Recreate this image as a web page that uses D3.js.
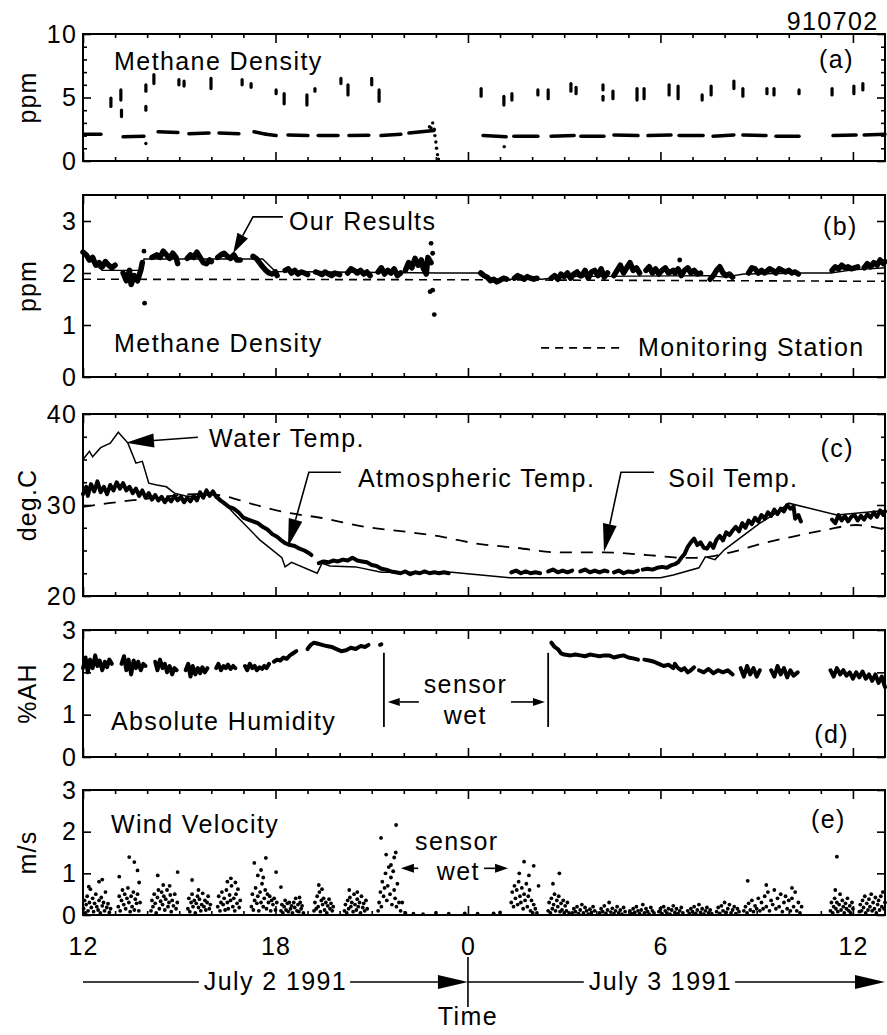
<!DOCTYPE html>
<html>
<head>
<meta charset="utf-8">
<script src="https://cdn.jsdelivr.net/npm/d3@7"></script>
<style>
  body { margin: 0; background: #fff; }
</style>
</head>
<body>
<div id="chart"></div>
<script>
// ---------------- data (hours from July 2 00:00; 24 = midnight) ----------------
const xTickValues = [12, 18, 24, 30, 36];
const xTickLabels = ["12", "18", "0", "6", "12"];

// (a) methane density: low readings come as short dashes [t0, t1, v0, v1]
const methaneLow = [
  [12.03, 12.56, 2.1, 2.1], [13.25, 13.9, 1.9, 1.95], [14.34, 14.96, 2.3, 2.25],
  [15.3, 15.93, 2.15, 2.2], [16.24, 16.86, 2.2, 2.15], [17.33, 17.7, 2.3, 2.1],
  [17.7, 18.02, 2.1, 2.0], [18.39, 19.01, 2.05, 2.0], [19.33, 19.95, 2.0, 2.0],
  [20.29, 20.91, 2.0, 2.02], [21.29, 21.91, 2.0, 2.1], [22.16, 22.94, 2.2, 2.4],
  [24.47, 25.19, 2.0, 1.9], [25.43, 26.18, 1.95, 1.95], [26.59, 27.31, 1.95, 2.0],
  [27.52, 28.24, 1.95, 1.95], [28.55, 29.3, 2.05, 2.0], [29.61, 30.33, 2.0, 2.05],
  [30.58, 31.33, 2.0, 2.0], [31.64, 32.29, 1.95, 2.05], [32.57, 33.29, 2.05, 2.0],
  [33.6, 34.32, 1.95, 1.95], [35.38, 36.1, 2.0, 2.05], [36.35, 37.0, 2.05, 2.1]
];
// high readings: short vertical clusters [t, vTop, vBottom]
const methaneHigh = [
  [12.87, 4.95, 4.3], [13.18, 5.6, 4.8], [13.2, 4.0, 3.5], [13.96, 6.0, 5.5], [13.96, 4.3, 4.0],
  [14.21, 6.8, 6.1], [14.99, 6.4, 6.0], [15.15, 6.3, 5.9], [15.99, 6.5, 5.7], [16.96, 6.4, 6.0],
  [17.24, 6.1, 5.8], [18.02, 5.6, 5.3], [18.27, 5.3, 4.5], [18.98, 5.2, 4.4], [19.23, 5.7, 5.5],
  [20.04, 6.5, 6.1], [20.26, 6.0, 5.2], [21.0, 6.5, 6.0], [21.23, 5.6, 4.7],
  [24.41, 5.7, 5.1], [25.12, 5.1, 4.4], [25.37, 5.3, 4.8], [26.18, 5.6, 5.2], [26.5, 5.6, 4.9],
  [27.21, 6.1, 5.5], [27.37, 5.8, 5.3], [28.21, 6.0, 5.6], [28.21, 5.1, 4.8], [28.52, 5.5, 4.9],
  [29.27, 5.7, 4.8], [29.49, 5.7, 4.9], [30.27, 6.0, 5.2], [30.55, 5.9, 4.9], [31.3, 5.2, 4.8],
  [31.58, 5.9, 5.2], [32.29, 6.3, 5.7], [32.57, 5.7, 5.1], [33.32, 5.7, 5.3], [33.54, 5.7, 5.2],
  [34.32, 5.6, 5.3], [35.35, 5.7, 5.2], [36.03, 5.9, 5.3], [36.31, 6.1, 5.6]
];
const methaneStray = [
  [13.96, 1.38], [22.85, 2.6], [22.9, 3.0], [22.95, 2.5], [22.97, 2.0], [23.0, 1.5],
  [23.02, 1.0], [23.05, 0.5], [23.08, 0.15], [22.8, 2.7], [25.13, 1.13]
];

// (b) our results (trace segments), strays, mean line, monitoring station
const ourResults = [
  [[12.0, 2.4], [12.1, 2.35], [12.2, 2.25], [12.3, 2.3], [12.4, 2.15], [12.5, 2.2], [12.6, 2.12], [12.7, 2.22], [12.8, 2.15], [12.9, 2.1], [13.0, 2.15]],
  [[13.25, 2.0], [13.35, 1.85], [13.45, 2.05], [13.5, 1.78], [13.6, 1.95], [13.7, 1.85], [13.8, 2.05], [13.85, 2.2]],
  [[14.15, 2.3], [14.3, 2.35], [14.4, 2.3], [14.5, 2.42], [14.6, 2.35], [14.7, 2.28], [14.8, 2.38], [14.9, 2.3], [14.95, 2.18]],
  [[15.25, 2.28], [15.35, 2.35], [15.45, 2.3], [15.55, 2.4], [15.65, 2.3], [15.75, 2.2], [15.85, 2.18], [15.95, 2.25], [16.0, 2.22]],
  [[16.2, 2.3], [16.3, 2.35], [16.4, 2.38], [16.5, 2.32], [16.6, 2.28], [16.7, 2.35], [16.8, 2.25], [16.9, 2.25]],
  [[17.3, 2.32], [17.4, 2.28], [17.5, 2.2], [17.6, 2.12], [17.7, 2.05], [17.8, 2.0], [17.9, 1.98], [18.0, 2.02], [18.05, 1.95]],
  [[18.3, 2.05], [18.4, 2.08], [18.5, 2.0], [18.6, 2.05], [18.7, 1.98], [18.8, 2.02], [18.9, 2.0], [19.0, 1.97]],
  [[19.25, 2.02], [19.35, 2.0], [19.45, 1.97], [19.55, 2.02], [19.65, 1.98], [19.75, 1.95], [19.85, 2.0], [20.0, 1.97]],
  [[20.25, 2.0], [20.35, 2.08], [20.45, 2.05], [20.55, 2.0], [20.65, 2.05], [20.75, 1.98], [20.85, 2.02], [20.95, 1.95]],
  [[21.2, 2.02], [21.3, 2.1], [21.4, 1.98], [21.5, 2.05], [21.6, 2.0], [21.7, 2.08], [21.8, 1.95], [21.9, 2.0]],
  [[22.05, 2.05], [22.15, 2.2], [22.25, 2.1], [22.35, 2.28], [22.45, 2.15], [22.55, 2.25], [22.6, 2.1], [22.7, 1.98], [22.75, 2.3], [22.85, 2.2]],
  [[24.4, 2.0], [24.5, 1.95], [24.6, 1.92], [24.7, 1.85], [24.8, 1.88], [24.9, 1.83], [25.0, 1.86], [25.1, 1.9], [25.2, 1.88]],
  [[25.45, 1.9], [25.55, 1.95], [25.65, 1.92], [25.75, 1.88], [25.85, 1.93], [25.95, 1.9], [26.05, 1.88], [26.15, 1.9]],
  [[26.6, 1.9], [26.7, 1.95], [26.8, 1.88], [26.9, 1.98], [27.0, 1.93], [27.1, 2.0], [27.2, 1.9], [27.3, 1.98], [27.4, 2.02], [27.5, 1.95]],
  [[27.55, 1.95], [27.65, 2.05], [27.75, 1.9], [27.85, 2.02], [27.95, 2.05], [28.05, 1.95], [28.15, 2.08], [28.25, 1.92], [28.35, 2.0]],
  [[28.55, 1.95], [28.65, 2.05], [28.75, 2.15], [28.85, 2.0], [28.95, 2.1], [29.05, 2.2], [29.15, 2.05], [29.25, 2.1], [29.35, 2.0]],
  [[29.55, 2.05], [29.65, 2.12], [29.75, 2.0], [29.85, 2.08], [29.95, 1.98], [30.05, 2.05], [30.15, 2.1], [30.25, 2.0], [30.4, 2.05]],
  [[30.45, 2.0], [30.55, 2.08], [30.65, 1.95], [30.75, 2.05], [30.85, 2.1], [30.95, 2.0], [31.05, 2.05], [31.15, 1.98], [31.25, 2.0]],
  [[31.55, 1.88], [31.65, 1.95], [31.75, 2.05], [31.85, 2.12], [31.95, 2.0], [32.05, 1.95], [32.15, 1.98], [32.25, 1.92]],
  [[32.75, 2.0], [32.85, 2.1], [32.95, 2.08], [33.05, 2.0], [33.15, 2.05], [33.25, 2.0], [33.4, 2.08], [33.5, 2.05], [33.6, 2.0], [33.7, 2.08], [33.8, 2.05], [33.9, 2.02], [34.0, 2.05], [34.1, 2.0], [34.2, 2.02], [34.3, 1.98]],
  [[35.35, 2.05], [35.45, 2.12], [35.55, 2.08], [35.65, 2.15], [35.75, 2.1], [35.85, 2.12], [35.95, 2.08], [36.05, 2.1], [36.15, 2.12]],
  [[36.35, 2.1], [36.45, 2.18], [36.55, 2.12], [36.65, 2.2], [36.75, 2.15], [36.85, 2.25], [36.95, 2.18], [37.0, 2.22]]
];
const ourResultsStray = [
  [13.9, 2.42], [13.92, 1.42], [22.85, 2.57], [22.9, 2.38], [22.82, 1.64], [22.9, 1.67], [22.95, 1.2], [30.6, 2.25]
];
const ourResultsMean = [
  [12.0, 2.38], [12.3, 2.2], [12.6, 2.05], [13.85, 2.05], [13.9, 2.27], [17.6, 2.27], [18.0, 2.03],
  [23.1, 2.0], [24.3, 2.0], [24.8, 1.88], [26.3, 1.88], [27.0, 1.93], [31.5, 1.95], [32.0, 1.92],
  [32.6, 1.98], [34.5, 2.0], [35.3, 2.0], [36.0, 2.06], [37.0, 2.1]
];
const monitoringStation = [[12.0, 1.88], [24.0, 1.87], [37.0, 1.84]];

// (c) temperatures
const waterTemp = [
  [12.0, 35.0], [12.2, 35.9], [12.3, 35.3], [12.55, 36.3], [12.85, 36.8], [13.1, 38.0], [13.4, 36.8],
  [13.65, 34.6], [13.85, 34.8], [14.05, 32.4], [14.3, 32.2], [14.6, 32.0], [14.85, 31.3], [15.2, 31.0],
  [15.6, 30.9], [16.0, 31.2], [16.2, 31.0], [16.7, 29.1], [17.5, 26.2], [18.2, 24.2], [18.3, 23.2],
  [18.5, 23.7], [19.3, 22.5], [19.45, 23.6], [19.7, 23.3], [20.5, 23.2], [21.3, 22.6], [23.5, 22.6],
  [25.3, 22.0], [30.0, 22.0], [30.4, 22.3], [31.2, 23.1], [31.4, 24.3], [31.7, 24.0], [32.0, 25.1],
  [33.1, 28.0], [33.6, 29.1], [34.0, 30.2], [35.5, 28.9], [37.0, 29.4]
];
const atmTemp = [
  [[12.0, 31.2], [12.1, 32.0], [12.15, 31.0], [12.25, 32.3], [12.35, 31.5], [12.45, 32.6], [12.55, 31.4], [12.65, 32.0],
   [12.75, 31.2], [12.85, 32.2], [12.95, 31.6], [13.05, 32.5], [13.15, 31.8], [13.25, 32.4], [13.35, 31.6], [13.45, 32.0],
   [13.55, 31.3], [13.65, 31.8], [13.75, 31.0], [13.85, 31.6], [13.95, 30.8], [14.05, 31.3], [14.15, 30.6], [14.25, 31.1],
   [14.35, 30.5], [14.45, 30.9], [14.55, 30.3], [14.65, 30.8], [14.75, 30.4], [14.85, 31.0], [14.95, 30.5], [15.05, 30.9],
   [15.15, 30.3], [15.25, 30.8], [15.35, 30.4], [15.45, 31.0], [15.55, 30.5], [15.65, 31.4], [15.75, 30.8], [15.85, 31.6],
   [15.95, 31.0], [16.05, 31.5], [16.15, 30.9], [16.25, 30.6], [16.4, 30.2], [16.55, 29.8], [16.7, 29.6], [16.85, 29.2],
   [17.0, 28.6], [17.15, 28.4], [17.3, 28.2], [17.45, 28.0], [17.6, 27.6], [17.75, 27.3], [17.9, 26.8], [18.05, 26.5],
   [18.15, 26.2], [18.3, 25.8], [18.45, 25.6], [18.6, 25.5], [18.75, 25.2], [18.9, 25.0], [19.05, 24.7], [19.12, 24.5]],
  [[19.35, 23.6], [19.5, 23.8], [19.65, 23.7], [19.8, 23.9], [19.95, 23.8], [20.1, 24.0], [20.25, 23.9], [20.4, 24.2],
   [20.55, 23.9], [20.7, 23.8], [20.85, 23.7], [21.0, 23.4], [21.15, 23.3], [21.3, 23.0], [21.45, 22.9], [21.6, 22.7],
   [21.75, 22.6], [21.9, 22.5], [22.05, 22.7], [22.2, 22.4], [22.35, 22.6], [22.5, 22.5], [22.65, 22.7], [22.8, 22.5],
   [22.95, 22.6], [23.1, 22.5], [23.25, 22.6], [23.4, 22.5]],
  [[25.35, 22.6], [25.5, 22.8], [25.65, 22.5], [25.8, 22.7], [25.95, 22.5], [26.1, 22.6], [26.25, 22.5]],
  [[26.5, 22.7], [26.65, 22.9], [26.8, 22.6], [26.95, 22.8], [27.1, 22.6], [27.25, 22.8]],
  [[27.5, 22.7], [27.65, 22.9], [27.8, 22.6], [27.95, 22.8], [28.1, 22.6], [28.25, 22.8], [28.35, 22.7]],
  [[28.55, 22.6], [28.7, 22.8], [28.85, 22.5], [29.0, 22.7], [29.15, 22.6], [29.3, 22.8]],
  [[29.45, 22.9], [29.6, 23.0], [29.75, 22.9], [29.9, 23.1], [30.05, 23.2], [30.2, 23.1], [30.35, 23.4], [30.45, 23.5],
   [30.55, 23.7], [30.65, 24.2], [30.75, 24.6], [30.85, 25.4], [30.95, 25.9], [31.05, 26.3], [31.15, 25.6], [31.25, 25.9],
   [31.35, 25.3], [31.45, 25.2], [31.55, 25.8], [31.65, 25.3], [31.75, 26.2], [31.85, 26.6], [31.95, 26.1], [32.05, 27.0],
   [32.15, 26.7], [32.25, 27.2], [32.35, 27.6], [32.45, 27.1], [32.55, 28.0], [32.65, 27.5], [32.75, 28.3], [32.85, 27.9],
   [32.95, 28.6], [33.05, 28.2], [33.15, 28.9], [33.25, 28.5], [33.35, 29.2], [33.45, 28.8], [33.55, 29.5], [33.65, 29.0],
   [33.75, 29.6], [33.85, 29.3], [33.95, 30.0], [34.05, 29.6], [34.15, 29.8], [34.2, 28.5], [34.3, 28.9], [34.38, 28.2]],
  [[35.35, 28.4], [35.45, 28.0], [35.55, 28.9], [35.65, 28.3], [35.75, 28.8], [35.85, 28.2], [35.95, 28.7], [36.05, 28.9],
   [36.15, 28.3], [36.25, 28.8], [36.35, 28.4], [36.45, 29.0], [36.55, 28.6], [36.65, 29.2], [36.75, 28.7], [36.85, 29.4],
   [36.95, 28.9], [37.0, 29.3]]
];
const soilTemp = [
  [12.0, 29.8], [12.8, 30.2], [13.5, 30.5], [14.5, 30.9], [15.5, 31.2], [16.2, 31.1], [16.9, 30.5], [17.5, 29.9],
  [18.3, 29.2], [19.4, 28.6], [20.8, 27.6], [22.2, 27.0], [23.2, 26.5], [24.2, 25.8], [25.5, 25.3], [26.8, 24.8],
  [28.2, 24.8], [29.6, 24.5], [30.7, 24.2], [31.1, 24.2], [32.2, 24.8], [33.2, 25.8], [34.1, 26.5], [35.2, 27.3],
  [36.1, 27.8], [37.0, 27.3]
];

// (d) absolute humidity
const humidity = [
  [[12.0, 2.1], [12.08, 2.35], [12.15, 2.0], [12.22, 2.3], [12.3, 2.1], [12.38, 2.4], [12.45, 2.15], [12.52, 2.28], [12.6, 2.05], [12.68, 2.25], [12.75, 2.12], [12.82, 2.3], [12.9, 2.2]],
  [[13.2, 2.2], [13.28, 2.38], [13.35, 2.05], [13.42, 2.3], [13.5, 1.95], [13.58, 2.28], [13.65, 2.1], [13.72, 2.25], [13.8, 2.05], [13.88, 2.2], [13.95, 2.15]],
  [[14.25, 2.25], [14.32, 2.05], [14.4, 2.3], [14.48, 2.1], [14.55, 2.2], [14.62, 2.0], [14.7, 2.15], [14.78, 1.95], [14.85, 2.1], [14.92, 2.05]],
  [[15.2, 2.05], [15.28, 2.2], [15.35, 1.9], [15.42, 2.15], [15.5, 1.95], [15.58, 2.1], [15.65, 1.98], [15.72, 2.12], [15.8, 2.0], [15.88, 2.1]],
  [[16.15, 2.1], [16.22, 2.2], [16.3, 2.05], [16.38, 2.15], [16.45, 2.1], [16.52, 2.18], [16.6, 2.08], [16.68, 2.15], [16.75, 2.1]],
  [[17.05, 2.15], [17.12, 2.05], [17.2, 2.2], [17.28, 2.1], [17.35, 2.15], [17.42, 2.05], [17.5, 2.12], [17.58, 2.08], [17.65, 2.15], [17.72, 2.1], [17.8, 2.2]],
  [[17.95, 2.25], [18.05, 2.3], [18.15, 2.28], [18.25, 2.35], [18.35, 2.32], [18.45, 2.4], [18.55, 2.45], [18.65, 2.5]],
  [[19.0, 2.55], [19.1, 2.65], [19.2, 2.7], [19.3, 2.68], [19.45, 2.65], [19.6, 2.62], [19.75, 2.6], [19.9, 2.55], [20.05, 2.5], [20.2, 2.52], [20.35, 2.58], [20.5, 2.55], [20.65, 2.62], [20.8, 2.6], [20.9, 2.65]],
  [[21.26, 2.65], [21.3, 2.66]],
  [[26.6, 2.7], [26.7, 2.6], [26.8, 2.55], [26.9, 2.45], [27.0, 2.42], [27.2, 2.4], [27.35, 2.42], [27.5, 2.4], [27.65, 2.38], [27.8, 2.42], [27.95, 2.4], [28.1, 2.38], [28.25, 2.4], [28.4, 2.4], [28.55, 2.35], [28.7, 2.38], [28.85, 2.4], [29.0, 2.35], [29.15, 2.33], [29.3, 2.3]],
  [[29.5, 2.3], [29.65, 2.28], [29.8, 2.25], [29.95, 2.2], [30.1, 2.15], [30.25, 2.18], [30.4, 2.1], [30.45, 2.2], [30.55, 2.1], [30.65, 2.05], [30.75, 2.1], [30.85, 2.0], [30.95, 2.05], [31.05, 2.12]],
  [[31.2, 2.05], [31.35, 2.0], [31.5, 2.08], [31.65, 1.98], [31.8, 2.05], [31.95, 2.0], [32.1, 2.05], [32.25, 1.95]],
  [[32.5, 2.1], [32.6, 1.9], [32.7, 2.15], [32.8, 1.95], [32.9, 2.1], [33.0, 1.9], [33.1, 2.05]],
  [[33.45, 2.05], [33.55, 1.9], [33.65, 2.15], [33.75, 1.95], [33.85, 2.1], [33.95, 1.88], [34.05, 2.05], [34.15, 1.92], [34.28, 2.0]],
  [[35.3, 2.05], [35.4, 1.9], [35.5, 2.1], [35.6, 1.95], [35.7, 2.05], [35.8, 1.92], [35.9, 2.0], [36.0, 1.85], [36.1, 2.0], [36.2, 1.88], [36.3, 2.02], [36.4, 1.85], [36.5, 1.95], [36.6, 1.8], [36.7, 1.95], [36.8, 1.75], [36.9, 1.9], [37.0, 1.65]]
];

// (e) wind velocity samples [t, m/s]
const wind = [
  [12.02,.15],[12.05,.35],[12.08,.05],[12.1,.25],[12.13,.45],[12.16,.1],[12.2,.3],[12.23,.62],[12.26,.18],[12.3,.4],[12.33,.08],[12.36,.28],[12.4,.5],[12.43,.2],[12.47,.12],[12.5,.35],[12.54,.05],[12.57,.42],[12.6,.22],[12.64,.3],[12.67,.1],[12.7,.55],[12.74,.18],[12.78,.27],[12.82,.06],[12.86,.15],[12.18,.68],[12.5,.8],[12.6,.85],
  [13.1,.2],[13.13,.45],[13.16,.1],[13.2,.35],[13.23,.6],[13.27,.25],[13.3,.5],[13.33,.15],[13.37,.4],[13.4,.65],[13.43,.3],[13.47,.08],[13.5,.45],[13.53,.2],[13.57,.55],[13.6,.12],[13.63,.38],[13.67,.28],[13.7,.5],[13.74,.1],[13.78,.3],[13.44,1.39],[13.6,1.27],[13.7,1.07],[13.13,.92],[13.75,.78],
  [14.12,.1],[14.15,.35],[14.18,.2],[14.22,.5],[14.25,.28],[14.28,.05],[14.32,.42],[14.35,.6],[14.38,.15],[14.42,.33],[14.45,.55],[14.48,.25],[14.52,.45],[14.55,.12],[14.58,.38],[14.62,.6],[14.65,.2],[14.68,.3],[14.72,.48],[14.75,.08],[14.78,.35],[14.82,.22],[14.86,.5],[14.9,.15],[14.94,.3],[14.33,.95],[14.5,.72],[14.95,1.03],[14.7,.7],
  [15.27,.15],[15.3,.4],[15.33,.08],[15.37,.3],[15.4,.5],[15.43,.2],[15.47,.35],[15.5,.05],[15.53,.28],[15.57,.45],[15.6,.18],[15.63,.38],[15.67,.1],[15.7,.25],[15.73,.52],[15.77,.2],[15.8,.35],[15.83,.12],[15.87,.3],[15.9,.45],[15.94,.15],[15.97,.25],[15.4,.84],[15.6,.6],
  [16.2,.2],[16.23,.45],[16.27,.1],[16.3,.3],[16.33,.55],[16.37,.25],[16.4,.4],[16.43,.12],[16.47,.6],[16.5,.3],[16.53,.15],[16.57,.48],[16.6,.35],[16.63,.7],[16.67,.2],[16.7,.4],[16.73,.1],[16.77,.5],[16.8,.28],[16.83,.62],[16.87,.18],[16.9,.35],[16.61,.88],[16.75,.78],[16.5,.8],
  [17.25,.2],[17.28,.5],[17.31,.12],[17.35,.35],[17.38,.65],[17.42,.28],[17.45,.45],[17.48,.1],[17.52,.55],[17.55,.3],[17.58,.75],[17.62,.2],[17.65,.4],[17.68,.6],[17.72,.15],[17.75,.5],[17.78,.3],[17.82,.45],[17.85,.1],[17.88,.35],[17.92,.25],[17.96,.4],[18.0,.12],[18.04,.3],[17.34,1.25],[17.7,1.37],[17.55,1.08],[18.02,1.03],[18.17,.67],[17.45,.95],[17.62,.9],
  [18.17,.1],[18.2,.25],[18.23,.05],[18.27,.2],[18.3,.35],[18.33,.12],[18.37,.28],[18.4,.08],[18.43,.3],[18.47,.15],[18.5,.22],[18.53,.05],[18.57,.3],[18.6,.18],[18.63,.4],[18.67,.1],[18.7,.25],[18.73,.08],[18.77,.3],[18.8,.15],[18.83,.22],[18.87,.05],[18.75,.42],
  [19.2,.1],[19.23,.3],[19.27,.15],[19.3,.45],[19.33,.2],[19.37,.55],[19.4,.08],[19.43,.35],[19.47,.25],[19.5,.4],[19.53,.12],[19.57,.3],[19.6,.05],[19.63,.22],[19.67,.38],[19.7,.15],[19.73,.28],[19.77,.1],[19.8,.2],[19.35,.72],[19.45,.62],
  [20.15,.1],[20.18,.25],[20.22,.05],[20.25,.35],[20.28,.15],[20.32,.42],[20.35,.2],[20.38,.3],[20.42,.08],[20.45,.5],[20.48,.25],[20.52,.12],[20.55,.38],[20.58,.2],[20.62,.3],[20.65,.05],[20.68,.45],[20.72,.18],[20.75,.28],[20.78,.1],[20.82,.35],[20.86,.15],[20.3,.6],[20.55,.55],
  [21.2,.1],[21.23,.3],[21.27,.55],[21.3,.2],[21.33,.8],[21.37,.45],[21.4,.65],[21.43,1.0],[21.47,.35],[21.5,.7],[21.53,1.15],[21.57,.5],[21.6,.9],[21.63,.25],[21.67,1.05],[21.7,.6],[21.73,.4],[21.77,.2],[21.8,.75],[21.85,.3],[21.9,.1],[21.29,1.85],[21.76,2.16],[21.45,1.45],[21.75,1.5],[21.6,1.2],[21.7,1.38],[21.95,.3],[22.05,.05],
  [22.3,.03],[22.6,.02],[23.0,.05],[23.4,.03],[23.9,.04],[24.3,.03],[24.8,.04],[25.0,.06],
  [25.35,.3],[25.38,.55],[25.42,.2],[25.45,.7],[25.48,.4],[25.52,.6],[25.55,.25],[25.58,.8],[25.62,.45],[25.65,.3],[25.68,.65],[25.72,.15],[25.75,.5],[25.78,.35],[25.82,.75],[25.85,.2],[25.88,.45],[25.92,.6],[25.95,.1],[25.98,.35],[26.02,.05],[26.05,.25],[26.1,.15],[26.15,.05],[25.6,1.0],[25.75,1.28],[26.05,1.18],[25.9,.95],[26.2,.7],
  [26.5,.1],[26.53,.3],[26.57,.05],[26.6,.4],[26.63,.15],[26.67,.25],[26.7,.5],[26.73,.1],[26.77,.35],[26.8,.2],[26.83,.45],[26.87,.08],[26.9,.28],[26.93,.12],[26.97,.35],[27.0,.05],[27.03,.22],[27.07,.1],[27.1,.3],[27.15,.05],[26.85,1.0],[26.65,.75],
  [27.25,.05],[27.3,.15],[27.35,.08],[27.4,.2],[27.45,.03],[27.5,.12],[27.55,.25],[27.6,.05],[27.65,.18],[27.7,.1],[27.75,.02],[27.8,.14],[27.85,.06],[27.9,.2],[27.95,.1],
  [28.1,.05],[28.15,.15],[28.2,.08],[28.25,.22],[28.3,.04],[28.35,.12],[28.4,.3],[28.45,.07],[28.5,.16],[28.55,.03],[28.6,.1],[28.65,.2],[28.7,.05],[28.75,.12],[28.8,.02],[28.85,.18],[28.9,.08],
  [29.05,.1],[29.1,.03],[29.15,.15],[29.2,.06],[29.25,.2],[29.3,.1],[29.35,.03],[29.4,.12],[29.45,.25],[29.5,.05],[29.55,.15],[29.6,.08],[29.65,.02],[29.7,.18],[29.75,.1],[29.8,.05],
  [29.95,.08],[30.0,.15],[30.05,.03],[30.1,.2],[30.15,.1],[30.2,.05],[30.25,.15],[30.3,.02],[30.35,.12],[30.4,.22],[30.45,.06],[30.5,.15],[30.55,.03],[30.6,.1],[30.65,.18],[30.7,.05],
  [30.85,.1],[30.9,.03],[30.95,.15],[31.0,.08],[31.05,.2],[31.1,.04],[31.15,.12],[31.2,.25],[31.25,.06],[31.3,.15],[31.35,.02],[31.4,.1],[31.45,.18],[31.5,.05],[31.55,.12],[31.6,.03],
  [31.75,.08],[31.8,.18],[31.85,.04],[31.9,.22],[31.95,.1],[32.0,.3],[32.05,.06],[32.1,.15],[32.15,.25],[32.2,.05],[32.25,.12],[32.3,.2],[32.35,.03],[32.4,.15],[32.45,.08],
  [32.6,.1],[32.65,.2],[32.7,.05],[32.75,.28],[32.8,.12],[32.85,.35],[32.9,.08],[32.95,.22],[33.0,.15],[33.05,.4],[33.1,.1],[32.72,.82],
  [33.15,.3],[33.2,.15],[33.25,.45],[33.3,.2],[33.35,.55],[33.4,.1],[33.45,.35],[33.5,.25],[33.55,.6],[33.6,.15],[33.65,.4],[33.7,.2],[33.75,.5],[33.8,.08],[33.85,.3],[33.9,.45],[33.95,.15],[34.0,.35],[34.05,.1],[34.1,.4],[34.15,.2],[34.2,.55],[34.25,.1],[34.3,.3],[34.35,.05],[34.4,.2],[33.3,.72],[34.1,.65],
  [35.5,1.4],
  [35.3,.1],[35.33,.3],[35.37,.05],[35.4,.2],[35.43,.4],[35.47,.15],[35.5,.3],[35.53,.08],[35.57,.25],[35.6,.5],[35.63,.12],[35.67,.35],[35.7,.2],[35.73,.05],[35.77,.28],[35.8,.15],[35.83,.4],[35.87,.1],[35.9,.22],[35.93,.05],[35.97,.3],[36.0,.15],[35.45,.6],
  [36.2,.08],[36.23,.25],[36.27,.1],[36.3,.35],[36.33,.18],[36.37,.45],[36.4,.05],[36.43,.28],[36.47,.12],[36.5,.38],[36.53,.2],[36.57,.5],[36.6,.1],[36.63,.3],[36.67,.15],[36.7,.42],[36.73,.05],[36.77,.25],[36.8,.35],[36.83,.12],[36.87,.45],[36.9,.2],[36.93,.55],[36.97,.15],[37.0,.3]
];

// ---------------- layout ----------------
const width = 887, height = 1035;
const font = '"Liberation Sans", Arial, Helvetica, sans-serif';
const fontSize = 25, spacing = 1.4;

const panels = {
  a: { top: 34,  bottom: 161, domain: [0, 10],  labels: [0, 5, 10],  minor: [1, 2, 3, 4, 6, 7, 8, 9], title: "ppm" },
  b: { top: 195, bottom: 377, domain: [0, 3.5], labels: [0, 1, 2, 3], minor: [], title: "ppm" },
  c: { top: 414, bottom: 596, domain: [20, 40], labels: [20, 30, 40], minor: [22.5, 25, 27.5, 32.5, 35, 37.5], title: "deg.C" },
  d: { top: 630, bottom: 757, domain: [0, 3],   labels: [0, 1, 2, 3], minor: [], title: "%AH" },
  e: { top: 790, bottom: 915, domain: [0, 3],   labels: [0, 1, 2, 3], minor: [], title: "m/s" }
};

const svg = d3.select("#chart").append("svg")
  .attr("width", width).attr("height", height)
  .style("background", "#fff");

const x = d3.scaleLinear().domain([12, 37]).range([83, 885]);
const y = {};
Object.entries(panels).forEach(([k, p]) => {
  y[k] = d3.scaleLinear().domain(p.domain).range([p.bottom, p.top]);
});

// helpers
function label(txt, px, py, anchor = "start") {
  return svg.append("text")
    .attr("x", px).attr("y", py)
    .attr("text-anchor", anchor)
    .attr("font-size", fontSize)
    .attr("font-family", font)
    .attr("letter-spacing", spacing)
    .text(txt);
}

function arrow(pts, len, wid, sw = 1.6) {
  const n = pts.length;
  const [x1, y1] = pts[n - 2], [x2, y2] = pts[n - 1];
  const a = Math.atan2(y2 - y1, x2 - x1);
  const bx = x2 - len * Math.cos(a), by = y2 - len * Math.sin(a);
  const px = -Math.sin(a) * wid / 2, py = Math.cos(a) * wid / 2;
  svg.append("path")
    .attr("d", d3.line()(pts.slice(0, -1).concat([[bx, by]])))
    .attr("fill", "none").attr("stroke", "#000").attr("stroke-width", sw);
  svg.append("path")
    .attr("d", `M${x2},${y2}L${bx + px},${by + py}L${bx - px},${by - py}Z`)
    .attr("fill", "#000");
}

const P = (k, t, v) => [x(t), y[k](v)];

// ---------------- (a) methane density ----------------
svg.append("g").selectAll("line")
  .data(methaneLow).join("line")
  .attr("x1", d => x(d[0])).attr("x2", d => x(d[1]))
  .attr("y1", d => y.a(d[2])).attr("y2", d => y.a(d[3]))
  .attr("stroke", "#000").attr("stroke-width", 3.5).attr("stroke-linecap", "round");

svg.append("g").selectAll("line")
  .data(methaneHigh).join("line")
  .attr("x1", d => x(d[0])).attr("x2", d => x(d[0]))
  .attr("y1", d => y.a(d[1])).attr("y2", d => y.a(d[2]))
  .attr("stroke", "#000").attr("stroke-width", 3.2).attr("stroke-linecap", "round");

svg.append("g").selectAll("circle")
  .data(methaneStray).join("circle")
  .attr("cx", d => x(d[0])).attr("cy", d => y.a(d[1])).attr("r", 1.7);

// ---------------- (b) methane vs. monitoring station ----------------
const lineB = d3.line().x(d => x(d[0])).y(d => y.b(d[1]));
svg.append("path").datum(monitoringStation).attr("d", lineB)
  .attr("fill", "none").attr("stroke", "#000").attr("stroke-width", 1.6)
  .attr("stroke-dasharray", "8,6");
svg.append("path").datum(ourResultsMean).attr("d", lineB)
  .attr("fill", "none").attr("stroke", "#000").attr("stroke-width", 1.4);
svg.append("g").selectAll("path")
  .data(ourResults).join("path")
  .attr("d", lineB)
  .attr("fill", "none").attr("stroke", "#000").attr("stroke-width", 5.5)
  .attr("stroke-linejoin", "round").attr("stroke-linecap", "round");
svg.append("g").selectAll("circle")
  .data(ourResultsStray).join("circle")
  .attr("cx", d => x(d[0])).attr("cy", d => y.b(d[1])).attr("r", 2.4);

// ---------------- (c) temperatures ----------------
const lineC = d3.line().x(d => x(d[0])).y(d => y.c(d[1]));
svg.append("path").datum(soilTemp).attr("d", lineC.curve(d3.curveMonotoneX))
  .attr("fill", "none").attr("stroke", "#000").attr("stroke-width", 1.8)
  .attr("stroke-dasharray", "12,9");
lineC.curve(d3.curveLinear);
svg.append("path").datum(waterTemp).attr("d", lineC)
  .attr("fill", "none").attr("stroke", "#000").attr("stroke-width", 1.5);
svg.append("g").selectAll("path")
  .data(atmTemp).join("path")
  .attr("d", lineC)
  .attr("fill", "none").attr("stroke", "#000").attr("stroke-width", 4)
  .attr("stroke-linejoin", "round").attr("stroke-linecap", "round");

// ---------------- (d) humidity ----------------
const lineD = d3.line().x(d => x(d[0])).y(d => y.d(d[1]));
svg.append("g").selectAll("path")
  .data(humidity).join("path")
  .attr("d", lineD)
  .attr("fill", "none").attr("stroke", "#000").attr("stroke-width", 4)
  .attr("stroke-linejoin", "round").attr("stroke-linecap", "round");

// ---------------- (e) wind ----------------
svg.append("g").selectAll("circle")
  .data(wind).join("circle")
  .attr("cx", d => x(d[0])).attr("cy", d => y.e(d[1])).attr("r", 1.9);

// ---------------- axes & frames ----------------
const majorHours = xTickValues;
const minorHours = d3.range(13, 37).filter(h => !majorHours.includes(h));

Object.entries(panels).forEach(([k, p]) => {
  const sy = y[k];
  const g = svg.append("g");
  const ax = (axis, tx, ty) => g.append("g")
    .attr("transform", `translate(${tx},${ty})`)
    .call(axis)
    .call(s => s.select(".domain").remove())
    .call(s => s.selectAll("line").attr("stroke-width", 1.6));

  ax(d3.axisTop(x).tickValues(minorHours).tickSize(-4).tickFormat(""), 0, p.top);
  ax(d3.axisTop(x).tickValues(majorHours).tickSize(-9).tickFormat(""), 0, p.top);
  ax(d3.axisBottom(x).tickValues(minorHours).tickSize(-4).tickFormat(""), 0, p.bottom);
  const bottom = ax(d3.axisBottom(x).tickValues(majorHours).tickSize(-9).tickPadding(22)
    .tickFormat((d, i) => k === "e" ? xTickLabels[i] : ""), 0, p.bottom);
  bottom.attr("font-size", fontSize).attr("font-family", font).attr("letter-spacing", 1);

  const left = ax(d3.axisLeft(sy).tickValues(p.labels).tickSize(-8).tickPadding(6).tickFormat(d3.format("d")), 83, 0);
  left.attr("font-size", fontSize).attr("font-family", font).attr("letter-spacing", 1.2);
  ax(d3.axisLeft(sy).tickValues(p.minor).tickSize(-4).tickFormat(""), 83, 0);
  ax(d3.axisRight(sy).tickValues(p.labels).tickSize(-8).tickFormat(""), 885, 0);
  ax(d3.axisRight(sy).tickValues(p.minor).tickSize(-4).tickFormat(""), 885, 0);

  g.append("rect")
    .attr("x", 83).attr("y", p.top)
    .attr("width", 885 - 83).attr("height", p.bottom - p.top)
    .attr("fill", "none").attr("stroke", "#000").attr("stroke-width", 2);

  svg.append("text")
    .attr("transform", `translate(36,${(p.top + p.bottom) / 2}) rotate(-90)`)
    .attr("text-anchor", "middle")
    .attr("font-size", fontSize).attr("font-family", font).attr("letter-spacing", 1.2)
    .text(p.title);
});

// ---------------- annotations ----------------
// (a)
label("Methane Density", x(12.97), y.a(7.17));
label("(a)", x(36.03), y.a(7.3), "end");
label("910702", x(36.8), y.a(10.3), "end");

// (b)
label("Our Results", x(18.42), y.b(2.83));
arrow([P("b", 18.23, 3.08), P("b", 17.3, 3.08), P("b", 16.68, 2.38)], 20, 12);
label("(b)", x(36.15), y.b(2.73), "end");
label("Methane Density", x(12.97), y.b(0.48));
svg.append("line")
  .attr("x1", x(26.28)).attr("x2", x(28.83))
  .attr("y1", y.b(0.56)).attr("y2", y.b(0.56))
  .attr("stroke", "#000").attr("stroke-width", 1.6).attr("stroke-dasharray", "8,6");
label("Monitoring Station", x(29.3), y.b(0.4));

// (c)
label("Water Temp.", x(15.93), y.c(36.37));
arrow([P("c", 15.58, 37.45), P("c", 13.34, 36.85)], 28, 14);
label("Atmospheric Temp.", x(20.57), y.c(32.0));
arrow([P("c", 20.04, 33.6), P("c", 19.04, 33.6), P("c", 18.39, 25.4)], 28, 14);
label("Soil Temp.", x(30.24), y.c(32.0));
arrow([P("c", 29.8, 33.6), P("c", 28.77, 33.6), P("c", 28.24, 24.85)], 28, 14);
label("(c)", x(36.03), y.c(35.27), "end");

// (d)
label("Absolute Humidity", x(12.87), y.d(0.64));
[21.38, 26.5].forEach(t => {
  svg.append("line")
    .attr("x1", x(t)).attr("x2", x(t))
    .attr("y1", y.d(2.46)).attr("y2", y.d(0.71))
    .attr("stroke", "#000").attr("stroke-width", 1.8);
});
label("sensor", x(23.92), y.d(1.51), "middle");
label("wet", x(23.92), y.d(0.78), "middle");
arrow([P("d", 22.47, 1.3), P("d", 21.5, 1.3)], 12, 8);
arrow([P("d", 25.34, 1.3), P("d", 26.4, 1.3)], 12, 8);
label("(d)", x(35.88), y.d(0.33), "end");

// (e)
label("Wind Velocity", x(12.87), y.e(1.97));
label("sensor", x(23.65), y.e(1.56), "middle");
label("wet", x(23.7), y.e(0.83), "middle");
arrow([P("e", 22.45, 1.12), P("e", 21.91, 1.12)], 13, 9);
arrow([P("e", 24.5, 1.12), P("e", 25.25, 1.12)], 13, 9);
label("(e)", x(35.78), y.e(2.09), "end");

// ---------------- time line under the plot ----------------
const lineY = 982;
arrow([[x(12), lineY], [x(24), lineY]], 30, 14, 1.6);
arrow([[x(24), lineY], [x(37), lineY]], 30, 14, 1.6);
[["July 2 1991", 18], ["July 3 1991", 30]].forEach(([txt, t]) => {
  const tx = label(txt, x(t), 990, "middle");
  const bb = tx.node().getBBox();
  svg.insert("rect", () => tx.node())
    .attr("x", bb.x - 5).attr("y", bb.y).attr("width", bb.width + 8).attr("height", bb.height)
    .attr("fill", "#fff");
});
svg.append("line")
  .attr("x1", x(24)).attr("x2", x(24)).attr("y1", 957).attr("y2", 1007)
  .attr("stroke", "#000").attr("stroke-width", 1.6);
label("Time", x(24), 1025, "middle");
</script>
</body>
</html>
